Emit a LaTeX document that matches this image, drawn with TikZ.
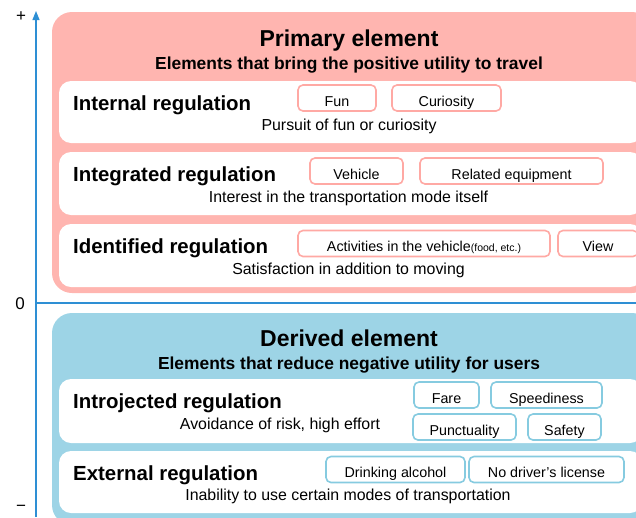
\documentclass[tikz,border=0pt]{standalone}
\usepackage{fontspec}
\setmainfont{Liberation Sans}
\usetikzlibrary{arrows.meta}
\definecolor{primfill}{HTML}{FFB5B0}
\definecolor{derivfill}{HTML}{9DD4E6}
\definecolor{pinkline}{HTML}{FFA9A4}
\definecolor{blueline}{HTML}{86CBE0}
\definecolor{axisblue}{HTML}{2E8FD4}
\begin{document}
\begin{tikzpicture}
		[
			x=1pt, y=-1pt,
			panel/.style={rounded corners=20pt, anchor=north west, inner sep=0pt, outer sep=0pt, minimum width=600pt},
			row/.style={fill=white, rounded corners=12pt, anchor=north west, inner sep=0pt, outer sep=0pt, minimum width=583pt},
			chipa/.style={draw=pinkline, line width=1.6pt, fill=white, rounded corners=5pt, inner sep=0pt, minimum height=26pt, text height=16.5pt, text depth=0pt, font=\fontsize{14.3}{16}\selectfont},
			chipb/.style={chipa, draw=blueline},
			head/.style={anchor=base, inner sep=0pt, font=\bfseries\fontsize{23}{26}\selectfont},
			subhead/.style={anchor=base, inner sep=0pt, font=\bfseries\fontsize{17.4}{20}\selectfont},
			level/.style={anchor=base west, inner sep=0pt, font=\bfseries\fontsize{20.4}{24}\selectfont},
			note/.style={anchor=base, inner sep=0pt, font=\fontsize{15.9}{18}\selectfont},
			tick/.style={inner sep=0pt, font=\fontsize{17}{20}\selectfont},
			axis/.style={draw=axisblue, line width=1.2pt},
		]
		\useasboundingbox (0,0) rectangle (636,517);
		\clip (0,0) rectangle (636,517);

		% Panels
		\node[panel, fill=primfill, minimum height=281pt] (primary) at (52,12) {};
		\node[panel, fill=derivfill, minimum height=212pt] (derived) at (52,313) {};

		% Rows
		\foreach \name/\top/\h in
		{
			internal/81/62,
			integrated/152/63,
			identified/224/63,
			introjected/379/64,
			external/451/62
		}
			\node[row, minimum height=\h pt] (\name) at (59,\top) {};

		% Chips
		\foreach \style/\name/\x/\y/\w/\text in
		{
			chipa/fun/337/98/78/Fun,
			chipa/curiosity/446.5/98/109/Curiosity,
			chipa/vehicle/356.5/171/93/Vehicle,
			chipa/equipment/511.5/171/183/Related equipment,
			chipa/activities/424/243.5/252/{Activities in the vehicle{\fontsize{10.5}{12}\selectfont(food, etc.)}},
			chipa/view/598/243.5/80/View,
			chipb/fare/446.5/395/65/Fare,
			chipb/speed/546.5/395/111/Speediness,
			chipb/punctual/464.5/427/103/Punctuality,
			chipb/safety/564.5/427/73/Safety,
			chipb/alcohol/395.5/469.5/139/Drinking alcohol,
			chipb/license/546.5/469.5/155/No driver’s license
		}
			\node[\style, minimum width=\w pt] (\name) at (\x,\y) {\text};

		% Titles
		\node[head] (primtitle) at (349,46) {Primary element};
		\node[subhead] (primsub) at (349,69) {Elements that bring the positive utility to travel};
		\node[head] (derivtitle) at (349,346) {Derived element};
		\node[subhead] (derivsub) at (349,369) {Elements that reduce negative utility for users};

		% Levels
		\foreach \name/\y/\text in
		{
			internal/110/Internal regulation,
			integrated/181/Integrated regulation,
			identified/253/Identified regulation,
			introjected/408/Introjected regulation,
			external/480/External regulation
		}
			\node[level] (\name-title) at (73,\y) {\text};

		\foreach \name/\x/\y/\text in
		{
			internal/349/130/Pursuit of fun or curiosity,
			integrated/348.5/202/Interest in the transportation mode itself,
			identified/348.5/274/Satisfaction in addition to moving,
			introjected/280/429/{Avoidance of risk, high effort},
			external/348/500/Inability to use certain modes of transportation
		}
			\node[note] (\name-note) at (\x,\y) {\text};

		% Axis
		\coordinate (axisbot) at (36,517);
		\coordinate (axistop) at (36,11);
		\coordinate (zeroleft) at (36,303);
		\coordinate (zeroright) at (636,303);
		\draw[axis, -{Triangle[length=9pt, width=7pt]}] (axisbot) -- (axistop);
		\draw[axis] (zeroleft) -- (zeroright);
		\node[tick] (plus) at (21,17) {+};
		\node[tick] (zero) at (20,304) {0};
		\node[tick] (minus) at (21,508) {−};

		\end{tikzpicture}
\end{document}
